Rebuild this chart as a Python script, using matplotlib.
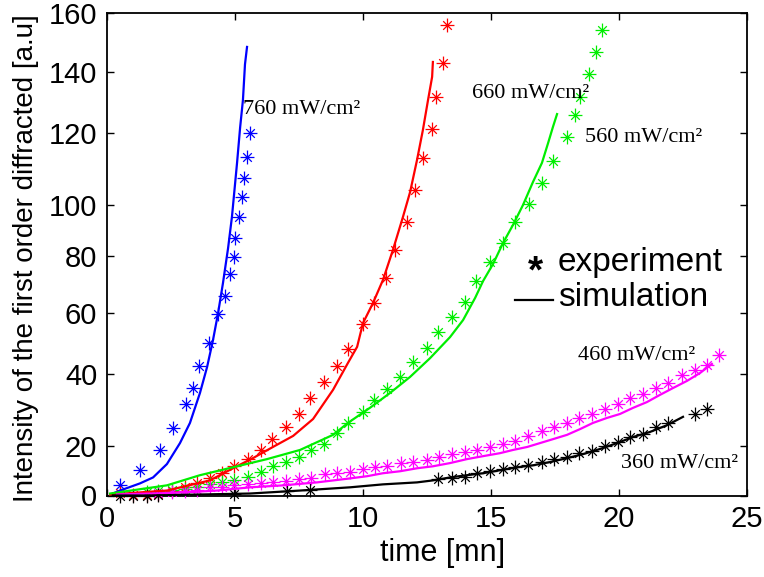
import numpy as np
import matplotlib
matplotlib.use("Agg")
import matplotlib.pyplot as plt
from matplotlib.path import Path

# ---------------- data ----------------
t_exp_760 = [0.51, 1.29, 2.07, 2.58, 3.09, 3.36, 3.59, 3.98, 4.34, 4.61, 4.80, 4.96, 5.00, 5.16, 5.27, 5.35, 5.47, 5.59]
I_exp_760 = [4.1, 10.2, 18.4, 25.0, 31.7, 36.1, 42.6, 50.2, 59.7, 66.0, 73.7, 79.6, 87.1, 95.3, 102.2, 107.5, 113.3, 120.0]
t_sim_760 = [0.23, 0.51, 1.29, 1.80, 2.34, 2.85, 3.24, 3.63, 3.91, 4.14, 4.34, 4.53, 4.73, 4.88, 5.08, 5.20, 5.31, 5.39, 5.47]
I_sim_760 = [0.8, 2.0, 4.9, 7.3, 12.7, 20.8, 26.4, 34.7, 42.3, 51.1, 60.0, 70.5, 83.1, 95.3, 111.7, 121.8, 130.8, 142.6, 148.5]

t_exp_660 = [0.51, 1.02, 1.56, 1.99, 2.54, 3.05, 3.52, 4.02, 4.49, 4.96, 5.51, 6.02, 6.45, 7.00, 7.50, 7.93, 8.48, 8.98,
             9.41, 10.0, 10.43, 10.9, 11.25, 11.72, 12.03, 12.34, 12.70, 12.85, 13.13, 13.28]
I_exp_660 = [1.2, 0.4, 0.4, 0.8, 2.0, 3.3, 4.9, 6.9, 9.0, 11.8, 14.7, 18.4, 21.9, 25.3, 28.9, 33.3, 37.8, 42.6,
             48.2, 56.4, 63.5, 72.3, 82.4, 93.3, 104.2, 113.1, 121.3, 131.8, 143.1, 155.9]
t_sim_660 = [0.12, 2.34, 4.02, 4.92, 5.70, 6.48, 7.27, 8.05, 8.83, 9.41, 9.77, 10.0, 10.39, 10.78, 11.17, 11.56,
             11.84, 12.11, 12.34, 12.54, 12.70, 12.73]
I_sim_660 = [0.4, 2.0, 6.1, 11.0, 15.1, 19.6, 22.8, 27.5, 35.6, 43.6, 48.9, 56.7, 63.5, 71.6, 82.4, 95.3,
             103.6, 112.5, 121.0, 130.8, 138.4, 143.4]

t_exp_560 = [1.56, 1.99, 2.54, 3.05, 3.52, 4.02, 4.49, 4.96, 5.51, 6.02, 6.48, 6.99, 7.50, 7.97, 8.48, 8.98, 9.41,
             10.0, 10.43, 10.94, 11.45, 11.95, 12.5, 12.93, 13.48, 13.98, 14.41, 14.96, 15.47, 15.94, 16.48, 16.99,
             17.42, 17.97, 18.28, 18.48, 18.83, 19.10, 19.34]
I_exp_560 = [1.6, 2.0, 2.4, 2.8, 3.3, 4.5, 5.3, 6.1, 7.3, 9.4, 11.8, 13.5, 15.5, 18.4, 20.6, 23.6, 26.4,
             29.4, 32.8, 35.8, 39.2, 43.9, 48.5, 53.8, 58.7, 63.9, 71.2, 77.9, 85.1, 93.3, 100.3, 106.1,
             112.2, 118.9, 125.9, 131.8, 139.3, 146.8, 154.2]
t_sim_560 = [0.12, 2.34, 3.63, 4.92, 6.25, 7.54, 8.83, 9.41, 10.27, 11.05, 11.84, 12.62, 13.4, 13.91, 14.38, 14.69,
             15.08, 15.47, 15.86, 16.25, 16.64, 16.99, 17.23, 17.42, 17.58]
I_sim_560 = [0.8, 4.1, 8.2, 11.4, 14.7, 18.4, 23.1, 26.4, 30.6, 34.7, 39.2, 45.2, 52.1, 57.7, 65.3, 71.2,
             77.2, 85.1, 92.2, 100.0, 106.4, 111.7, 117.2, 122.0, 126.2]

t_exp_460 = [1.99, 2.54, 3.05, 3.52, 4.02, 4.49, 4.96, 5.51, 6.02, 6.48, 6.99, 7.5, 7.97, 8.52, 8.98, 9.49, 10.0,
             10.47, 10.94, 11.48, 11.95, 12.5, 12.97, 13.48, 13.98, 14.45, 14.96, 15.47, 15.94, 16.45, 16.99, 17.46,
             17.97, 18.44, 18.95, 19.45, 19.96, 20.43, 20.94, 21.45, 21.91, 22.46, 22.97, 23.44, 23.91]
I_exp_460 = [1.2, 1.6, 2.0, 2.4, 3.3, 3.3, 4.1, 4.5, 4.9, 5.3, 5.7, 6.5, 6.9, 8.6, 9.0, 9.4, 10.6,
             11.4, 11.8, 13.1, 13.5, 14.3, 15.5, 16.7, 17.6, 18.4, 19.6, 20.6, 21.4, 22.8, 24.2, 25.3,
             26.4, 27.8, 28.9, 30.3, 31.7, 33.3, 34.4, 36.1, 37.5, 39.7, 41.3, 43.0, 46.2]
t_sim_460 = [0.39, 1.68, 2.97, 4.30, 5.59, 6.88, 8.2, 9.49, 10.16, 10.78, 11.45, 12.11, 12.73, 13.4, 14.06, 14.69,
             15.35, 15.86, 16.41, 16.91, 17.42, 17.97, 18.48, 18.98, 19.53, 20.04, 20.55, 21.09, 21.6, 22.11,
             22.66, 23.16, 23.63]
I_sim_460 = [0.4, 0.8, 1.2, 2.0, 3.3, 4.1, 5.3, 6.9, 7.8, 9.0, 9.8, 11.0, 11.8, 13.1, 14.7, 15.9,
             17.1, 18.4, 19.6, 20.8, 21.9, 23.1, 24.7, 26.4, 27.8, 28.9, 30.6, 32.2, 34.2, 36.1,
             38.1, 40.3, 43.3]

t_exp_360 = [0.51, 1.02, 1.56, 1.99, 4.96, 7.03, 7.93, 12.93, 13.48, 13.98, 14.45, 14.96, 15.47, 15.94, 16.45,
             16.99, 17.46, 17.97, 18.44, 18.95, 19.45, 19.96, 20.43, 20.94, 21.45, 21.91, 22.97, 23.44]
I_exp_360 = [0.0, 0.0, 0.0, 0.4, 0.8, 2.0, 2.4, 6.5, 6.9, 7.3, 9.0, 9.8, 10.6, 11.4, 12.2,
             13.5, 14.7, 15.5, 17.1, 18.0, 20.0, 21.1, 22.5, 23.3, 25.3, 26.4, 28.9, 30.3]
t_sim_360 = [0.23, 1.68, 3.63, 5.59, 7.54, 9.49, 10.78, 12.11, 12.73, 13.4, 14.06, 14.69, 15.35, 16.02, 16.64,
             17.3, 17.97, 18.59, 19.26, 19.92, 20.55, 21.21, 21.88, 22.5]
I_sim_360 = [0.0, 0.0, 0.4, 0.8, 2.0, 3.3, 4.5, 5.3, 6.1, 7.3, 8.2, 9.0, 10.2, 11.4, 12.2,
             13.5, 15.1, 16.7, 18.8, 20.8, 22.5, 23.9, 25.8, 28.1]

series_labels = ["760 mW/cm²", "660 mW/cm²", "560 mW/cm²", "460 mW/cm²", "360 mW/cm²"]
x_ticks = [0, 5, 10, 15, 20, 25]
y_ticks = [0, 20, 40, 60, 80, 100, 120, 140, 160]

# ---------------- layout (the original's axis is not evenly spaced) ----------------
W, H = 764, 577
ax_left, ax_right, ax_top, ax_bottom = 107, 747, 13, 495.5
ytick_px = [495.5, 446, 374, 313, 256, 205, 133, 72, 13]
ytick_frac = [(ax_bottom - p) / (ax_bottom - ax_top) for p in ytick_px]

yv = np.array(y_ticks, float)
yf = np.array(ytick_frac, float)


def fwd(v):
    v = np.asarray(v, float)
    out = np.interp(v, yv, yf)
    lo = v < yv[0]
    hi = v > yv[-1]
    out = np.where(lo, yf[0] + (v - yv[0]) * (yf[1] - yf[0]) / (yv[1] - yv[0]), out)
    out = np.where(hi, yf[-1] + (v - yv[-1]) * (yf[-1] - yf[-2]) / (yv[-1] - yv[-2]), out)
    return out


def inv(f):
    f = np.asarray(f, float)
    out = np.interp(f, yf, yv)
    lo = f < yf[0]
    hi = f > yf[-1]
    out = np.where(lo, yv[0] + (f - yf[0]) * (yv[1] - yv[0]) / (yf[1] - yf[0]), out)
    out = np.where(hi, yv[-1] + (f - yf[-1]) * (yv[-1] - yv[-2]) / (yf[-1] - yf[-2]), out)
    return out


def fig_xy(x, y):
    return x / W, 1 - y / H


# MATLAB-like asterisk marker: long + with shorter x
a = 0.62
verts = [(-1, 0), (1, 0), (0, -1), (0, 1), (-a, -a), (a, a), (-a, a), (a, -a)]
codes = [Path.MOVETO, Path.LINETO] * 4
ast = Path(verts, codes)

plt.rcParams['font.family'] = ['Liberation Sans', 'DejaVu Sans']

fig = plt.figure(figsize=(W / 100, H / 100), dpi=100)
ax = fig.add_axes([ax_left / W, 1 - ax_bottom / H, (ax_right - ax_left) / W, (ax_bottom - ax_top) / H])
ax.set_yscale('function', functions=(fwd, inv))

colors = ['#0000ff', '#ff0000', '#00ee00', '#ff00ff', '#000000']
exps = [(t_exp_760, I_exp_760), (t_exp_660, I_exp_660), (t_exp_560, I_exp_560),
        (t_exp_460, I_exp_460), (t_exp_360, I_exp_360)]
sims = [(t_sim_760, I_sim_760), (t_sim_660, I_sim_660), (t_sim_560, I_sim_560),
        (t_sim_460, I_sim_460), (t_sim_360, I_sim_360)]

for (te, Ie), (ts, Is), c in zip(exps, sims, colors):
    ax.plot(te, Ie, linestyle='none', marker=ast, markersize=10, markeredgewidth=0.9,
            color=c, clip_on=False, zorder=3)
    ax.plot(ts, Is, '-', color=c, linewidth=1.6, zorder=4)

ax.set_xlim(0, 25)
ax.set_ylim(0, 160)
ax.set_xticks(x_ticks)
ax.set_yticks(y_ticks)
ax.set_xticklabels([str(v) for v in x_ticks])
ax.set_yticklabels([str(v) for v in y_ticks])
ax.minorticks_off()
ax.tick_params(direction='in', length=5, width=1, top=True, right=True, labelsize=21, pad=7)
for s in ax.spines.values():
    s.set_linewidth(1.3)

ax.set_xlabel('time [mn]', fontsize=22)
ax.xaxis.set_label_coords((443 - ax_left) / (ax_right - ax_left), -(553 - ax_bottom) / (ax_bottom - ax_top),
                          transform=ax.transAxes)
ax.xaxis.label.set_va('center')
ax.set_ylabel('Intensity of the first order diffracted [a.u]', fontsize=20)
ax.yaxis.set_label_coords(-(ax_left - 26) / (ax_right - ax_left), (ax_bottom - 258) / (ax_bottom - ax_top),
                          transform=ax.transAxes)
ax.yaxis.label.set_va('center')

# curve annotations (Times-like serif)
serif = ['Liberation Serif', 'DejaVu Serif']
ann = [(243, 110), (472, 93), (585, 137), (578, 355), (621, 463)]
for (x, y), lab in zip(ann, series_labels):
    fig.text(*fig_xy(x, y), lab, family=serif, fontsize=16, ha='left', va='center')

# legend built as text
fig.text(*fig_xy(535, 272), '*', fontsize=28, fontweight='bold', ha='center', va='center')
fig.text(*fig_xy(558, 263), 'experiment', fontsize=24, ha='left', va='center')
fig.lines.append(plt.Line2D([515 / W, 553 / W], [1 - 300 / H, 1 - 300 / H], color='black',
                            linewidth=1.6, transform=fig.transFigure))
fig.text(*fig_xy(558, 297), 'simulation', fontsize=24, ha='left', va='center')

fig.savefig('out.png', dpi=100)
